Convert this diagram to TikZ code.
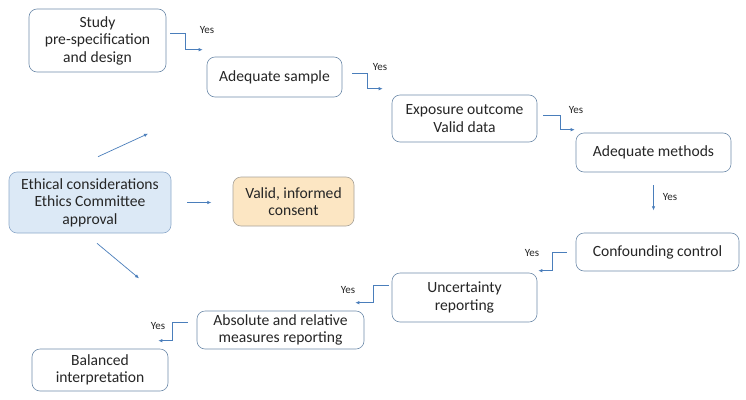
\documentclass[tikz,border=0pt]{standalone}
\usepackage{fontspec}
\setmainfont{Carlito}
\usetikzlibrary{arrows.meta,calc}
\definecolor{conn}{HTML}{4A7EBB}
\definecolor{boxline}{HTML}{6F8CAB}
\definecolor{ethfill}{HTML}{DCE9F6}
\definecolor{ethline}{HTML}{8EAACB}
\definecolor{consfill}{HTML}{FCE6C3}
\definecolor{consline}{HTML}{A8A39A}
\definecolor{txt}{HTML}{262626}
\begin{document}
\begin{tikzpicture}[x=1pt,y=-1pt,
  box/.style={draw=boxline,line width=0.6pt,rounded corners=8pt,fill=white,
    align=center,inner sep=2pt,text=txt,font=\fontsize{15.6}{17.5}\selectfont},
  ethbox/.style={box,draw=ethline,fill=ethfill},
  consbox/.style={box,draw=consline,fill=consfill},
  conn/.style={draw=conn,line width=0.7pt,-{Latex[length=4pt,width=3.5pt]}},
  yes/.style={text=txt,font=\fontsize{11}{12}\selectfont,inner sep=0pt}]
\useasboundingbox (0,0) rectangle (746,399);
\fill[white] (0,0) rectangle (746,399);
% boxes
\node[box,minimum width=137pt,minimum height=63pt] (study) at (97.5,40.5) {Study\\pre-specification\\and design};
\node[box,minimum width=135pt,minimum height=40pt] (sample) at (274.5,77) {Adequate sample};
\node[box,minimum width=145pt,minimum height=47pt] (expo) at (464.5,118.5) {Exposure outcome\\Valid data};
\node[box,minimum width=155pt,minimum height=39pt] (meth) at (653.5,152.5) {Adequate methods};
\node[ethbox,minimum width=162pt,minimum height=61pt] (eth) at (90,202.5) {Ethical considerations\\Ethics Committee\\approval};
\node[consbox,minimum width=121pt,minimum height=49pt] (cons) at (293.5,201.5) {Valid, informed\\consent};
\node[box,minimum width=163pt,minimum height=38pt] (conf) at (657.5,252) {Confounding control};
\node[box,minimum width=145pt,minimum height=49pt] (unc) at (464.5,297.5) {Uncertainty\\reporting};
\node[box,minimum width=167pt,minimum height=38pt] (abs) at (280.5,330) {Absolute and relative\\measures reporting};
\node[box,minimum width=136pt,minimum height=42pt] (bal) at (100,370) {Balanced\\interpretation};
% yes connectors
\draw[conn] ($(study.east)+(4,-7.5)$) -- ++(15,0) |- ($(sample.north west)+(-4,-7)$);
\draw[conn] ($(sample.east)+(10,-4)$) -- ++(15,0) |- ($(expo.north west)+(-9,-6)$);
\draw[conn] ($(expo.east)+(6,-3.5)$) -- ++(17,0) |- ($(meth.north west)+(-1,-3)$);
\draw[conn] ($(meth.south)+(0,13)$) -- ++(0,25);
\draw[conn] ($(conf.west)+(-9,0)$) -- ++(-14,0) |- ($(unc.north east)+(1,-2)$);
\draw[conn] ($(unc.west)+(-3,-12.5)$) -- ++(-15,0) |- ($(abs.north east)+(-9,-8)$);
\draw[conn] ($(abs.west)+(-9,-8)$) -- ++(-15,0) |- ($(bal.north east)+(-10,-8)$);
% ethics arrows
\draw[conn] ($(eth.north)+(8,-15)$) -- ++(50,-23);
\draw[conn] ($(eth.east)+(16,0)$) -- ++(24,0);
\draw[conn] ($(eth.south)+(7,10)$) -- ++(42,35);
% labels
\node[yes] (y1) at (207,30) {Yes};
\node[yes] (y2) at (380,67) {Yes};
\node[yes] (y3) at (576,110) {Yes};
\node[yes] (y4) at (670,197) {Yes};
\node[yes] (y5) at (532,253) {Yes};
\node[yes] (y6) at (348,290) {Yes};
\node[yes] (y7) at (158,326) {Yes};
\end{tikzpicture}
\end{document}
